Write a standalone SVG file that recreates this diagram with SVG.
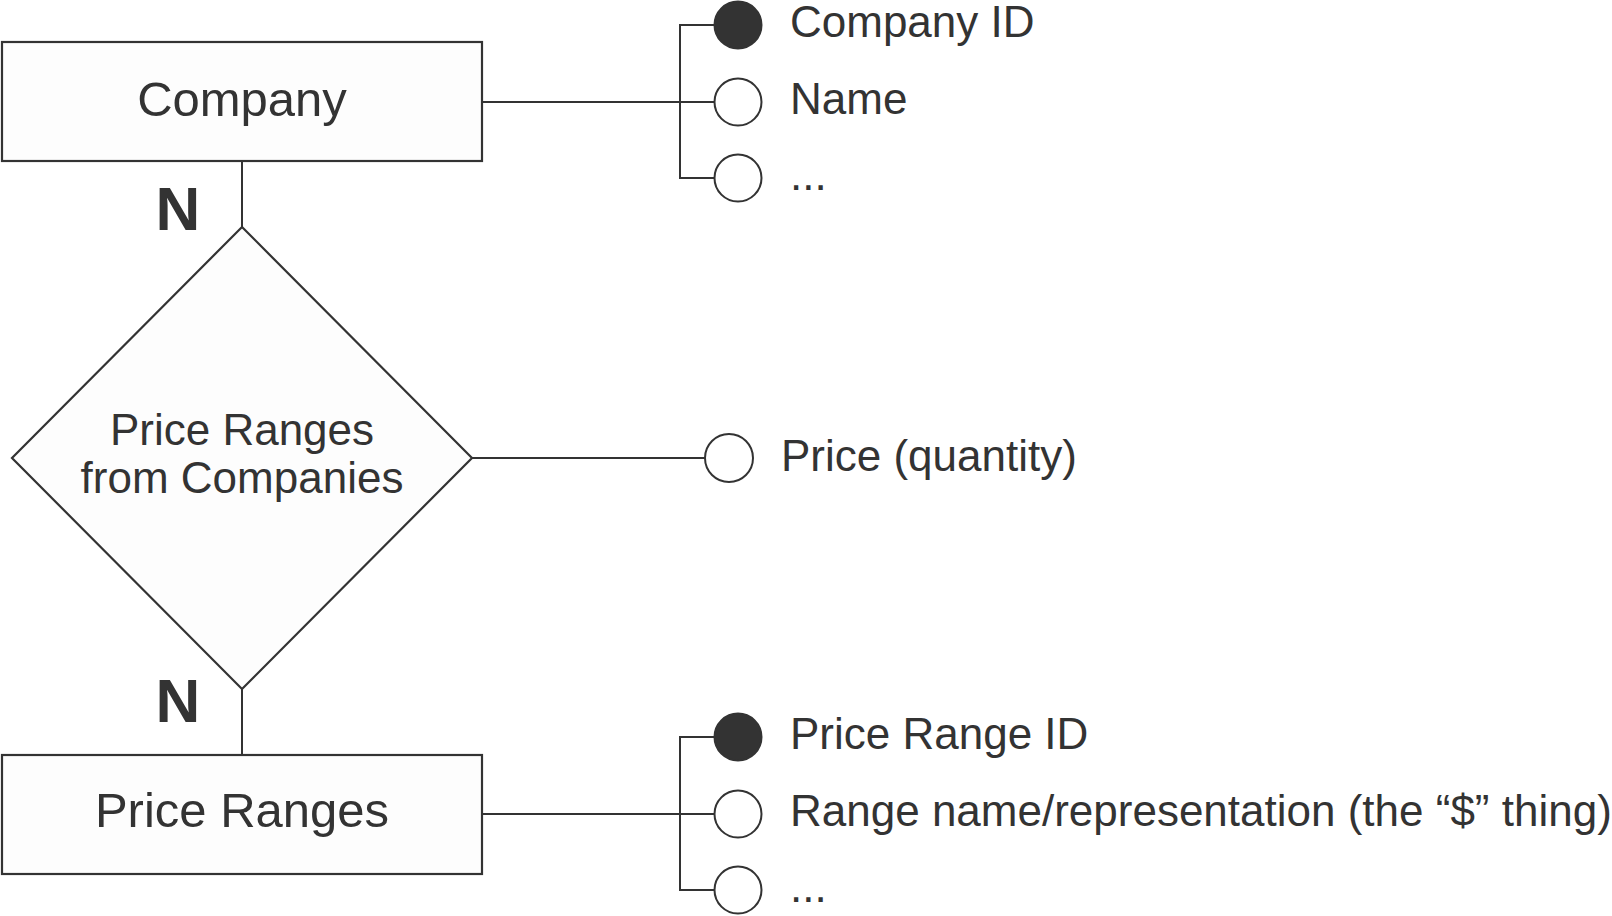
<svg xmlns="http://www.w3.org/2000/svg" width="1612" height="916" viewBox="0 0 1612 916">
<style>
.shape{fill:#fdfdfd;stroke:#333;stroke-width:2.2}
.line{fill:none;stroke:#333;stroke-width:2}
.attr{fill:#fff;stroke:#333;stroke-width:2}
.key{fill:#333;stroke:#333;stroke-width:2}
text{font-family:"Liberation Sans",Arial,sans-serif;fill:#333}
.ent{font-size:49px;text-anchor:middle}
.rel{font-size:44px;text-anchor:middle}
.lbl{font-size:44px}
.card{font-size:62px;font-weight:bold;text-anchor:middle}
</style>
<rect width="1612" height="916" fill="#fff"/>
<g id="connectors">
<line class="line" x1="482" y1="102" x2="680" y2="102"/>
<polyline class="line" points="714,25 680,25 680,178 714,178"/>
<line class="line" x1="680" y1="102" x2="714" y2="102"/>
<line class="line" x1="242" y1="161" x2="242" y2="227"/>
<line class="line" x1="242" y1="689" x2="242" y2="755"/>
<line class="line" x1="472" y1="458" x2="705" y2="458"/>
<line class="line" x1="482" y1="814" x2="680" y2="814"/>
<polyline class="line" points="714,737 680,737 680,890 714,890"/>
<line class="line" x1="680" y1="814" x2="714" y2="814"/>
</g>
<g id="company">
<rect class="shape" x="2" y="42" width="480" height="119"/>
<text class="ent" x="242" y="116">Company</text>
</g>
<g id="company-id">
<circle class="key" cx="738" cy="25" r="23.5"/>
<text class="lbl" x="790" y="37">Company ID</text>
</g>
<g id="company-name">
<circle class="attr" cx="738" cy="102" r="23.5"/>
<text class="lbl" x="790" y="114">Name</text>
</g>
<g id="company-more">
<circle class="attr" cx="738" cy="178" r="23.5"/>
<text class="lbl" x="790" y="190">...</text>
</g>
<g id="card-top"><text class="card" x="178" y="230">N</text></g>
<g id="relationship">
<polygon class="shape" points="242,227 472,458 242,689 12,458"/>
<text class="rel" x="242" y="445">Price Ranges</text>
<text class="rel" x="242" y="493">from Companies</text>
</g>
<g id="price">
<circle class="attr" cx="729" cy="458" r="24"/>
<text class="lbl" x="781" y="471">Price (quantity)</text>
</g>
<g id="card-bottom"><text class="card" x="178" y="722">N</text></g>
<g id="price-ranges">
<rect class="shape" x="2" y="755" width="480" height="119"/>
<text class="ent" x="242" y="827">Price Ranges</text>
</g>
<g id="price-range-id">
<circle class="key" cx="738" cy="737" r="23.5"/>
<text class="lbl" x="790" y="749">Price Range ID</text>
</g>
<g id="range-name">
<circle class="attr" cx="738" cy="814" r="23.5"/>
<text class="lbl" x="790" y="826">Range name/representation (the “$” thing)</text>
</g>
<g id="range-more">
<circle class="attr" cx="738" cy="890" r="23.5"/>
<text class="lbl" x="790" y="902">...</text>
</g>
</svg>
